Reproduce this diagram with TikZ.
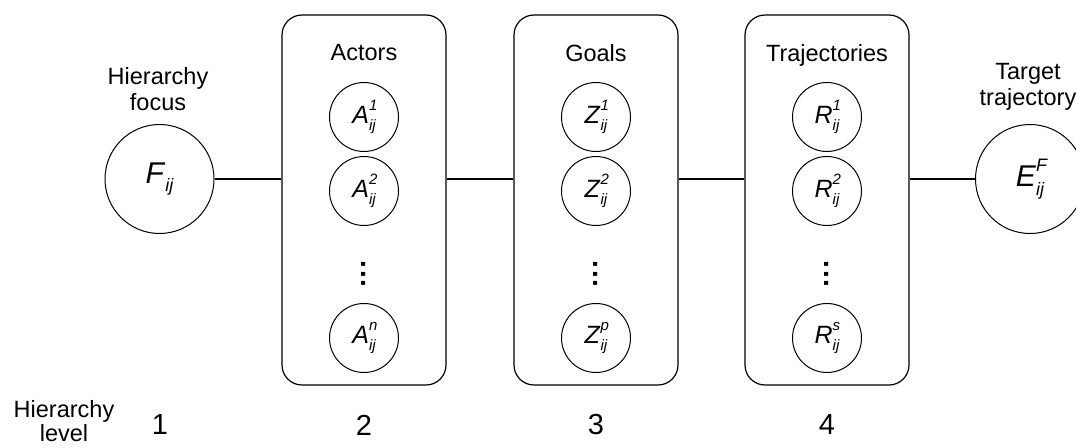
\documentclass[tikz,border=0pt]{standalone}
\usepackage{fontspec}
\setmainfont{Liberation Sans}
\usetikzlibrary{positioning}
% italic symbol with stacked super- and subscript
\newcommand{\ent}[3]{\textit{#1}\makebox[0pt][l]{\raisebox{0.52em}{\scalebox{0.6}{\itshape #2}}}\raisebox{-0.28em}{\scalebox{0.6}{\itshape #3}}}
% vertical ellipsis
\newcommand{\vdts}{\rotatebox{-90}{.\hspace{1.8pt}.\hspace{1.8pt}.}}
\newcommand{\lblfont}{\fontsize{23.5}{28}\selectfont}
\tikzset{
  grp/.style={draw,line width=1.2pt,rounded corners=20pt,minimum width=164pt,minimum height=370pt,inner sep=0pt},
  ent/.style={draw,circle,line width=1pt,minimum size=69pt,inner sep=0pt,font=\fontsize{25}{25}\selectfont},
  bigent/.style={ent,minimum size=109pt,font=\fontsize{30}{30}\selectfont},
  hd/.style={font=\lblfont,align=center},
  lvl/.style={font=\fontsize{29}{29}\selectfont},
  dts/.style={font=\fontsize{28}{28}\selectfont\bfseries,inner sep=0pt},
  ln/.style={line width=1.2pt},
}

\begin{document}
\begin{tikzpicture}[x=1pt,y=-1pt]
\useasboundingbox (0,0) rectangle (1076,447);
% outer entities
\node[bigent] (focus) at (159.5,179) {\ent{F}{}{ij}};
\node[hd] (focuslbl) at (158,89) {Hierarchy\\[-2pt]focus};
\node[bigent] (target) at (1030,179) {\ent{E}{F}{ij}};
\node[hd] (targetlbl) at (1028,87) {Target\\[-2pt]trajectory};
% groups
\node[grp] (actbox) at (364,200) {};
\node[grp] (goalbox) at (596,200) {};
\node[grp] (trajbox) at (827,200) {};
\node[hd] (acthd) at (364,53) {Actors};
\node[hd] (goalhd) at (596,53) {Goals};
\node[hd] (trajhd) at (827,55) {Trajectories};
% actors
\node[ent] (a1) at (364,117) {\ent{A}{1}{ij}};
\node[ent] (a2) at (364,191) {\ent{A}{2}{ij}};
\node[dts] (adots) at (364,274) {\vdts};
\node[ent] (an) at (364,338) {\ent{A}{n}{ij}};
% goals
\node[ent] (z1) at (596,117) {\ent{Z}{1}{ij}};
\node[ent] (z2) at (596,191) {\ent{Z}{2}{ij}};
\node[dts] (zdots) at (596,274) {\vdts};
\node[ent] (zp) at (596,338) {\ent{Z}{p}{ij}};
% trajectories
\node[ent] (r1) at (827,117) {\ent{R}{1}{ij}};
\node[ent] (r2) at (827,191) {\ent{R}{2}{ij}};
\node[dts] (rdots) at (827,274) {\vdts};
\node[ent] (rs) at (827,338) {\ent{R}{s}{ij}};
% links
\draw[ln] (focus) -- (focus -| actbox.west);
\draw[ln] (actbox.east |- focus) -- (goalbox.west |- focus);
\draw[ln] (goalbox.east |- focus) -- (trajbox.west |- focus);
\draw[ln] (trajbox.east |- focus) -- (target);
% hierarchy levels
\node[hd] (lvllbl) at (64,421) {Hierarchy\\[-4pt]level};
\node[lvl] (l1) at (160,425) {1};
\node[lvl] (l2) at (364,425) {2};
\node[lvl] (l3) at (596,425) {3};
\node[lvl] (l4) at (827,425) {4};
\end{tikzpicture}
\end{document}
